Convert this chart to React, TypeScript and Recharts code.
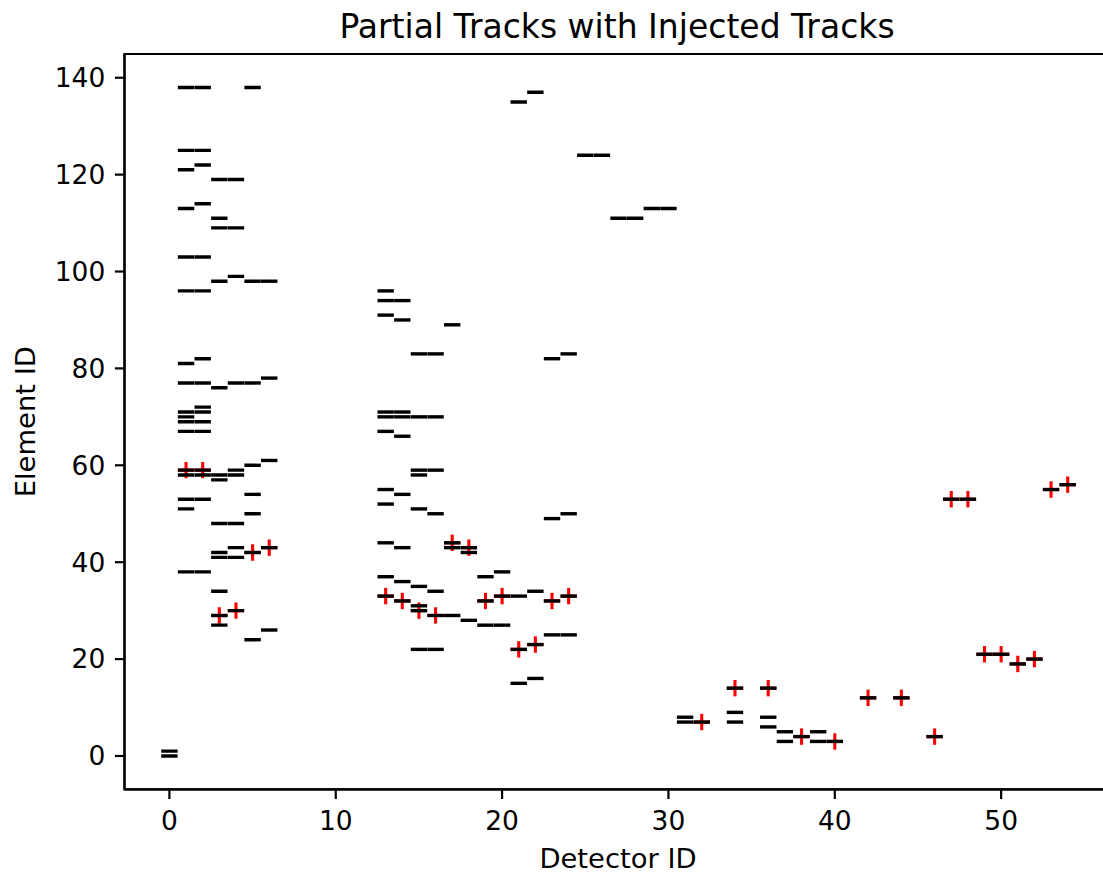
import React from 'react';
import {
  ScatterChart,
  Scatter,
  XAxis,
  YAxis,
  ReferenceArea,
} from 'recharts';

// detector ids that hold hits, and the element ids seen on each of them
const detectorIds = [
  0, 1, 2, 3, 4, 5, 6, 13, 14, 15, 16, 17, 18, 19, 20, 21, 22, 23, 24, 25, 26,
  27, 28, 29, 30, 31, 32, 34, 36, 37, 38, 39, 40, 42, 44, 46, 47, 48, 49, 50,
  51, 52, 53, 54,
];

const elementIdsPerDetector = [
  [0, 1],
  [138, 125, 121, 113, 103, 96, 81, 77, 71, 70, 69, 67, 59, 58, 53, 51, 38],
  [138, 125, 122, 114, 103, 96, 82, 77, 72, 71, 69, 67, 59, 58, 53, 38],
  [119, 111, 109, 98, 76, 58, 57, 48, 42, 41, 34, 29, 27],
  [119, 109, 99, 77, 59, 58, 48, 43, 41, 30],
  [138, 98, 77, 60, 54, 50, 42, 24],
  [98, 78, 61, 43, 26],
  [96, 94, 91, 71, 70, 67, 55, 52, 44, 37, 33],
  [94, 90, 71, 70, 66, 54, 43, 36, 32],
  [83, 70, 59, 58, 51, 35, 31, 30, 22],
  [83, 70, 59, 50, 34, 29, 22],
  [89, 44, 43, 29],
  [43, 42, 28],
  [37, 32, 27],
  [38, 33, 27],
  [135, 33, 22, 15],
  [137, 34, 23, 16],
  [82, 49, 32, 25],
  [83, 50, 33, 25],
  [124],
  [124],
  [111],
  [111],
  [113],
  [113],
  [8, 7],
  [7],
  [14, 9, 7],
  [14, 8, 6],
  [5, 3],
  [4],
  [5, 3],
  [3],
  [12],
  [12],
  [4],
  [53],
  [53],
  [21],
  [21],
  [19],
  [20],
  [55],
  [56],
];

// injected track hits (red crosses)
const injectedDetectorIds = [
  1, 2, 3, 4, 5, 6, 13, 14, 15, 16, 17, 18, 19, 20, 21, 22, 23, 24, 32, 34, 36,
  38, 40, 42, 44, 46, 47, 48, 49, 50, 51, 52, 53, 54,
];
const injectedElementIds = [
  59, 59, 29, 30, 42, 43, 33, 32, 30, 29, 44, 43, 32, 33, 22, 23, 32, 33, 7, 14,
  14, 4, 3, 12, 12, 4, 53, 53, 21, 21, 19, 20, 55, 56,
];

const xTicks = [0, 10, 20, 30, 40, 50];
const yTicks = [0, 20, 40, 60, 80, 100, 120, 140];

const X_DOMAIN: [number, number] = [-2.7, 56.7];
const Y_DOMAIN: [number, number] = [-6.9, 144.9];

const partialHits = detectorIds.flatMap((d, i) =>
  elementIdsPerDetector[i].map((e) => ({ x: d, y: e }))
);
const injectedHits = injectedDetectorIds.map((d, i) => ({
  x: d,
  y: injectedElementIds[i],
}));

const FONT = '"DejaVu Sans", sans-serif';
const HALF = 8.2;

function Dash(props: any) {
  const { cx, cy } = props;
  if (cx == null || cy == null) return null;
  return (
    <line x1={cx - HALF} x2={cx + HALF} y1={cy} y2={cy} stroke="#000" strokeWidth={3.4} />
  );
}

function Cross(props: any) {
  const { cx, cy } = props;
  if (cx == null || cy == null) return null;
  return (
    <g stroke="#ff0000" strokeWidth={3.1}>
      <line x1={cx - HALF} x2={cx + HALF} y1={cy} y2={cy} />
      <line x1={cx} x2={cx} y1={cy - HALF} y2={cy + HALF} />
    </g>
  );
}

const tickStyle = { fill: '#000', fontSize: 26.5, fontFamily: FONT };
const lineStyle = { stroke: '#000', strokeWidth: 2.2 };

export default function App() {
  return (
    <div
      style={{
        position: 'fixed',
        left: 0,
        top: 0,
        width: 1103,
        height: 874,
        overflow: 'hidden',
        background: '#fff',
      }}
    >
      <ScatterChart
        width={1120}
        height={874}
        margin={{ top: 54, right: 7.4, bottom: 24.6, left: 64.5 }}
      >
        <XAxis
          type="number"
          dataKey="x"
          domain={X_DOMAIN}
          ticks={xTicks}
          allowDataOverflow
          height={60}
          tickSize={9.6}
          tickMargin={12}
          tick={tickStyle}
          axisLine={lineStyle}
          tickLine={lineStyle}
        />
        <YAxis
          type="number"
          dataKey="y"
          domain={Y_DOMAIN}
          ticks={yTicks}
          allowDataOverflow
          width={60}
          tickSize={9.6}
          tickMargin={9.6}
          tick={tickStyle}
          axisLine={lineStyle}
          tickLine={lineStyle}
        />
        <Scatter data={injectedHits} shape={<Cross />} isAnimationActive={false} />
        <Scatter data={partialHits} shape={<Dash />} isAnimationActive={false} />
        <ReferenceArea
          x1={X_DOMAIN[0]}
          x2={X_DOMAIN[1]}
          y1={Y_DOMAIN[0]}
          y2={Y_DOMAIN[1]}
          fill="none"
          stroke="#000"
          strokeWidth={2.2}
          ifOverflow="visible"
        />
      </ScatterChart>
      <svg
        width={1103}
        height={874}
        style={{ position: 'absolute', left: 0, top: 0, pointerEvents: 'none' }}
      >
        <text
          x={617}
          y={37.5}
          textAnchor="middle"
          fontFamily={FONT}
          fontSize={33}
          fill="#000"
        >
          Partial Tracks with Injected Tracks
        </text>
        <text
          x={618}
          y={867.5}
          textAnchor="middle"
          fontFamily={FONT}
          fontSize={27.4}
          fill="#000"
        >
          Detector ID
        </text>
        <text
          x={35}
          y={421.7}
          textAnchor="middle"
          fontFamily={FONT}
          fontSize={27.4}
          fill="#000"
          transform="rotate(-90 35 421.7)"
        >
          Element ID
        </text>
      </svg>
    </div>
  );
}
